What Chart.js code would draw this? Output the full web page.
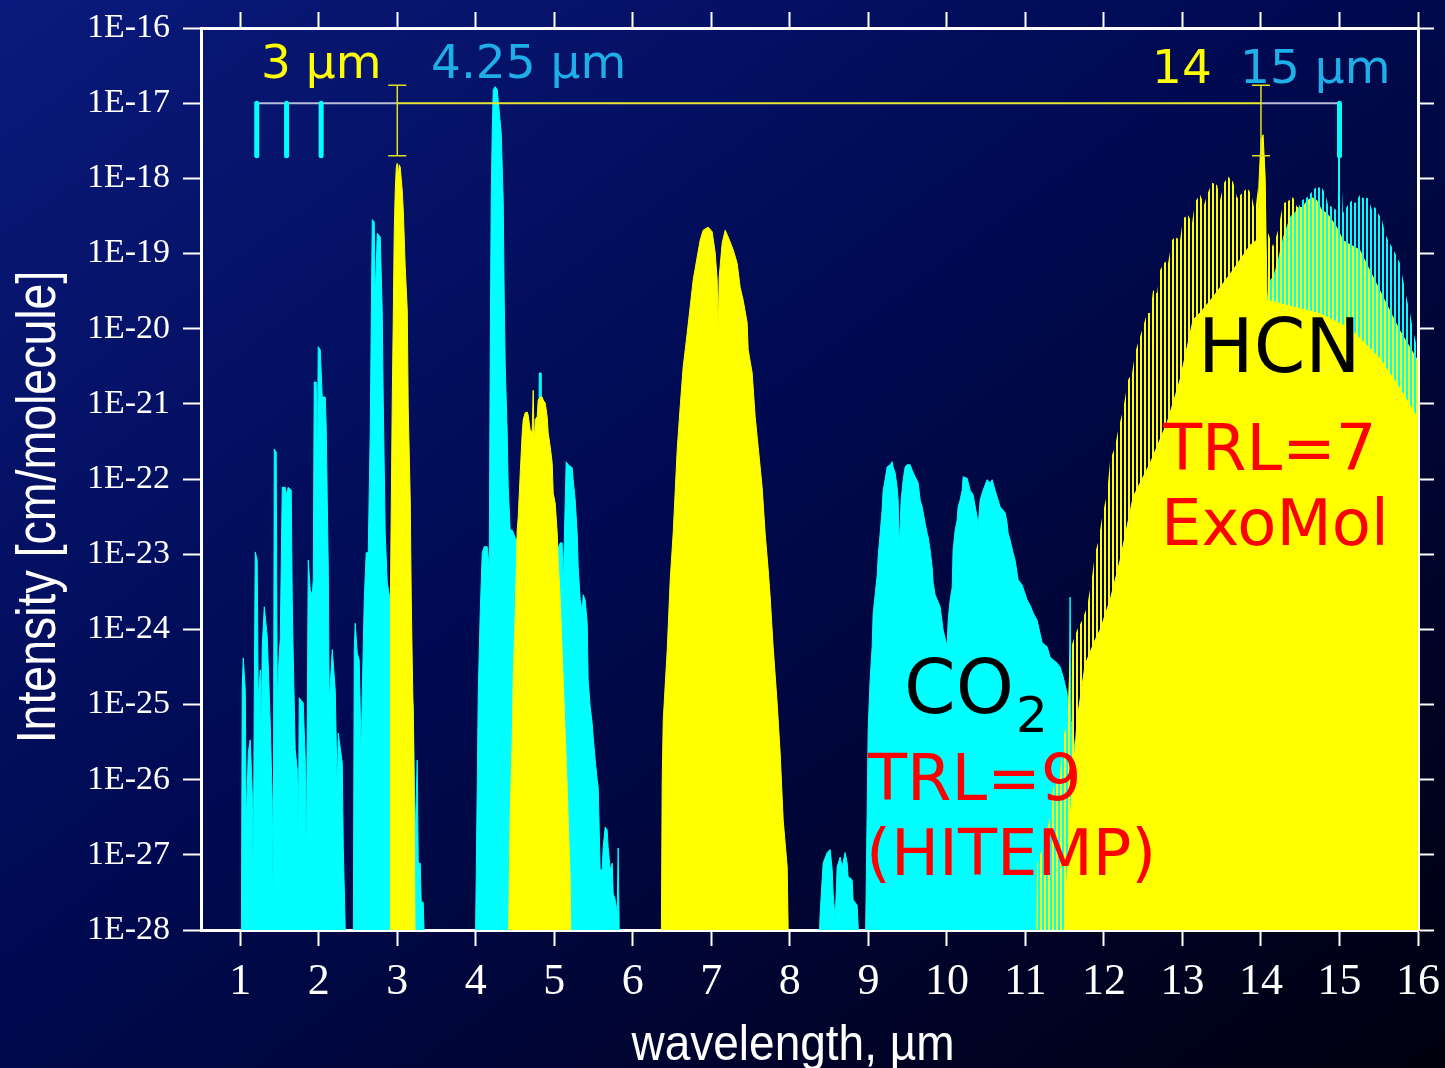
<!DOCTYPE html>
<html>
<head>
<meta charset="utf-8">
<script src="https://cdn.jsdelivr.net/npm/chart.js@4.4.1/dist/chart.umd.min.js"></script>
<style>
html, body { margin: 0; padding: 0; overflow: hidden; width: 1445px; height: 1068px; }
body { background: linear-gradient(to bottom right, #0a1a7c 0%, #000a52 45%, #000326 80%, #00000e 100%); }
canvas { display: block; }
</style>
</head>
<body>
<canvas id="myChart" width="1445" height="1068"></canvas>
<script>
// wavelength (um), log10 intensity (cm/molecule); -28.5 = below axis (band edge)
var co2Spectrum = [
  [1.013,-28.5],[1.025,-24.77],[1.038,-24.38],[1.064,-24.81],[1.076,-26.60],[1.102,-25.64],[1.127,-25.47],[1.153,-26.18],[1.166,-27.43],[1.178,-24.94],
  [1.191,-22.97],[1.216,-23.08],[1.229,-24.94],[1.255,-24.54],[1.267,-25.38],[1.280,-24.23],[1.306,-23.70],[1.344,-24.10],[1.382,-25.25],[1.407,-26.27],
  [1.420,-27.69],[1.433,-21.60],[1.458,-21.64],[1.471,-24.94],[1.497,-24.31],[1.509,-24.14],[1.535,-22.11],[1.573,-22.11],[1.586,-22.21],[1.611,-22.11],
  [1.649,-22.15],[1.662,-23.61],[1.675,-24.37],[1.700,-25.60],[1.726,-25.87],[1.739,-26.97],[1.751,-24.91],[1.802,-24.98],[1.828,-25.74],[1.841,-27.29],
  [1.866,-23.08],[1.892,-23.48],[1.917,-23.54],[1.930,-23.34],[1.942,-20.71],[1.968,-20.71],[1.981,-21.88],[1.993,-20.24],[2.019,-20.28],[2.044,-20.91],
  [2.083,-20.91],[2.095,-21.31],[2.108,-22.28],[2.121,-23.17],[2.133,-24.98],[2.172,-24.27],[2.210,-24.81],[2.235,-26.18],[2.248,-25.38],[2.299,-25.78],
  [2.312,-26.90],[2.337,-27.97],[2.350,-28.5],
  [2.439,-28.5],[2.452,-24.27],[2.464,-23.92],[2.490,-24.31],[2.515,-24.41],[2.541,-25.70],[2.554,-24.85],[2.579,-23.61],[2.604,-22.98],[2.630,-22.98],
  [2.655,-21.39],[2.681,-18.55],[2.706,-18.58],[2.719,-19.58],[2.745,-18.73],[2.783,-18.78],[2.808,-19.75],[2.821,-20.95],[2.846,-22.72],[2.872,-23.38],
  [2.910,-23.61],[3.037,-24.27],[3.165,-24.67],[3.203,-25.03],[3.228,-26.76],[3.254,-25.74],[3.267,-27.11],[3.292,-27.11],[3.305,-27.63],[3.330,-27.63],
  [3.356,-28.5],
  [3.992,-28.5],[4.018,-26.10],[4.031,-24.85],[4.056,-23.78],[4.082,-22.98],[4.107,-22.90],[4.145,-22.90],[4.171,-23.17],[4.184,-20.24],[4.196,-18.29],
  [4.209,-17.40],[4.222,-16.82],[4.247,-16.78],[4.273,-16.82],[4.285,-16.96],[4.324,-17.40],[4.349,-18.29],[4.362,-19.62],[4.375,-20.51],[4.400,-21.39],
  [4.413,-22.11],[4.438,-22.68],[4.464,-22.68],[4.502,-22.78],[4.527,-22.81],[4.693,-22.94],[4.795,-22.94],[4.808,-20.59],[4.833,-20.59],[4.846,-22.94],
  [5.011,-23.01],[5.075,-22.85],[5.100,-22.85],[5.113,-23.44],[5.151,-21.77],[5.177,-21.81],[5.228,-21.85],[5.240,-22.01],[5.266,-22.28],[5.291,-22.72],
  [5.304,-23.17],[5.330,-23.61],[5.355,-23.74],[5.368,-23.54],[5.393,-23.61],[5.419,-23.92],[5.431,-24.67],[5.457,-25.03],[5.482,-25.25],[5.495,-25.43],
  [5.521,-25.74],[5.546,-26.00],[5.559,-26.10],[5.584,-27.20],[5.610,-27.20],[5.622,-26.90],[5.648,-26.63],[5.673,-26.67],[5.686,-26.90],[5.712,-27.20],
  [5.737,-27.11],[5.750,-27.51],[5.775,-27.60],[5.801,-27.77],[5.813,-26.91],[5.826,-27.97],[5.839,-28.5],
  [8.360,-28.5],[8.386,-27.77],[8.424,-27.11],[8.475,-26.97],[8.513,-26.93],[8.539,-27.20],[8.551,-27.51],[8.577,-27.87],[8.602,-27.16],[8.640,-27.03],
  [8.666,-27.16],[8.704,-26.97],[8.730,-27.11],[8.742,-27.29],[8.793,-27.33],[8.806,-27.60],[8.857,-27.67],[8.895,-28.5],
  [8.959,-28.5],[8.984,-26.44],[8.997,-25.34],[9.022,-24.67],[9.048,-24.23],[9.061,-23.78],[9.086,-23.54],[9.112,-23.28],[9.124,-23.04],[9.150,-22.72],
  [9.175,-22.41],[9.188,-22.15],[9.213,-22.01],[9.239,-21.84],[9.277,-21.81],[9.303,-21.77],[9.315,-21.84],[9.341,-21.92],[9.366,-22.11],[9.379,-22.28],
  [9.392,-22.92],[9.417,-22.28],[9.430,-22.15],[9.443,-22.01],[9.468,-21.84],[9.494,-21.81],[9.532,-21.81],[9.557,-21.88],[9.595,-21.97],[9.634,-22.05],
  [9.659,-22.28],[9.685,-22.37],[9.723,-22.59],[9.748,-22.72],[9.761,-22.77],[9.786,-22.94],[9.812,-23.17],[9.825,-23.38],[9.850,-23.54],[9.914,-23.70],
  [9.952,-24.01],[10.003,-24.23],[10.016,-23.88],[10.041,-23.61],[10.067,-23.44],[10.079,-22.94],[10.105,-22.68],[10.130,-22.55],[10.143,-22.37],[10.168,-22.28],
  [10.194,-22.15],[10.207,-21.97],[10.258,-21.99],[10.296,-22.15],[10.334,-22.21],[10.385,-22.51],[10.398,-22.64],[10.423,-22.28],[10.461,-22.15],[10.512,-22.01],
  [10.551,-22.05],[10.576,-22.01],[10.614,-22.15],[10.652,-22.28],[10.678,-22.37],[10.742,-22.45],[10.767,-22.59],[10.780,-22.72],[10.805,-22.81],[10.843,-22.98],
  [10.869,-23.08],[10.907,-23.34],[10.958,-23.41],[11.022,-23.61],[11.060,-23.68],[11.098,-23.78],[11.149,-23.88],[11.213,-24.18],[11.276,-24.23],[11.315,-24.37],
  [11.404,-24.45],[11.442,-24.50],[11.480,-24.63],[11.531,-24.85],[11.544,-25.07],[11.557,-25.21],[11.569,-23.57],[11.582,-25.21],[11.633,-25.60],[11.697,-26.27],
  [11.760,-28.5],
  [13.225,-28.5],[13.734,-25.50],[14.014,-21.00],[14.333,-19.60],[14.715,-19.30],[15.109,-19.30],[15.300,-19.50],[15.517,-19.90],[15.771,-20.40],[16.000,-21.00]
];

// tips of the CO2 15 um band lines
var co2LineTips = [
  [13.225,-28.5],[13.734,-24.94],[13.925,-21.61],[14.014,-20.02],[14.078,-19.58],[14.116,-19.35],[14.154,-19.31],[14.205,-19.13],[14.282,-18.78],[14.371,-18.51],
  [14.460,-18.42],[14.524,-18.29],[14.588,-18.25],[14.651,-18.18],[14.689,-18.13],[14.727,-18.12],[14.778,-18.13],[14.816,-18.20],[14.854,-18.35],[14.905,-18.38],
  [14.956,-18.42],[14.969,-17.76],[14.982,-17.72],[15.007,-17.72],[15.020,-17.89],[15.045,-18.46],[15.109,-18.35],[15.160,-18.29],[15.198,-18.33],[15.262,-18.22],
  [15.300,-18.26],[15.364,-18.26],[15.415,-18.42],[15.453,-18.38],[15.491,-18.46],[15.542,-18.55],[15.580,-18.73],[15.618,-18.82],[15.707,-18.99],[15.771,-19.13],
  [15.810,-19.35],[15.860,-19.62],[15.899,-19.79],[15.937,-20.02],[15.975,-20.19],[16.000,-20.19]
];

var hcnSpectrum = [
  [2.910,-28.5],[2.912,-23.61],[2.936,-20.95],[2.948,-19.92],[2.961,-18.73],[2.974,-18.16],[2.987,-17.86],[2.999,-17.80],[3.012,-17.96],[3.025,-17.82],
  [3.037,-17.85],[3.063,-18.16],[3.076,-18.42],[3.101,-19.18],[3.127,-19.75],[3.139,-21.04],[3.165,-22.28],[3.178,-23.61],[3.190,-24.41],[3.203,-25.17],
  [3.216,-26.44],[3.228,-28.5],
  [4.413,-28.5],[4.438,-26.44],[4.464,-25.47],[4.476,-24.67],[4.502,-23.78],[4.527,-22.68],[4.540,-22.51],[4.566,-21.92],[4.591,-21.39],[4.604,-21.21],
  [4.629,-21.12],[4.655,-21.11],[4.667,-21.15],[4.693,-21.35],[4.718,-21.37],[4.731,-20.82],[4.744,-21.57],[4.757,-21.21],[4.782,-21.17],[4.795,-20.95],
  [4.820,-20.91],[4.846,-20.91],[4.858,-20.95],[4.884,-20.99],[4.909,-21.17],[4.922,-21.39],[4.948,-21.57],[4.973,-21.79],[4.986,-22.19],[5.011,-22.32],
  [5.037,-22.72],[5.049,-23.08],[5.075,-23.61],[5.113,-24.67],[5.164,-26.10],[5.202,-27.33],[5.215,-28.5],
  [6.361,-28.5],[6.374,-26.00],[6.387,-25.21],[6.438,-24.27],[6.476,-23.34],[6.514,-22.72],[6.565,-21.61],[6.603,-21.04],[6.641,-20.51],[6.692,-20.06],
  [6.730,-19.71],[6.769,-19.35],[6.819,-19.05],[6.858,-18.82],[6.896,-18.69],[6.960,-18.65],[7.010,-18.71],[7.049,-18.99],[7.074,-19.35],[7.087,-20.02],
  [7.100,-19.31],[7.138,-18.86],[7.176,-18.69],[7.214,-18.78],[7.278,-18.95],[7.329,-19.13],[7.367,-19.45],[7.405,-19.62],[7.456,-19.92],[7.469,-20.28],
  [7.520,-20.59],[7.558,-21.17],[7.596,-21.57],[7.647,-22.11],[7.685,-22.72],[7.724,-23.21],[7.749,-23.57],[7.787,-24.23],[7.838,-24.98],[7.876,-25.64],
  [7.915,-26.54],[7.966,-27.16],[7.978,-27.97],[7.991,-28.5],
  [11.467,-28.5],[11.569,-26.54],[11.658,-25.21],[11.760,-24.47],[11.888,-24.14],[11.951,-24.01],[12.079,-23.61],[12.206,-23.08],[12.372,-22.24],[12.588,-21.79],
  [12.805,-21.25],[12.970,-20.68],[13.136,-19.88],[13.225,-19.79],[13.390,-19.58],[13.645,-19.22],[13.861,-18.89],[13.950,-18.82],[13.976,-18.02],[14.001,-17.49],
  [14.027,-17.42],[14.052,-17.96],[14.078,-19.62],[14.371,-19.70],[14.753,-19.80],[15.135,-20.00],[15.517,-20.40],[15.771,-20.80],[16.000,-21.20]
];

// tips of the dense HCN rotational lines (11-16 um)
var hcnLineTips = [
  [11.136,-28.5],[11.149,-27.11],[11.225,-26.90],[11.315,-26.50],[11.353,-26.10],[11.442,-25.91],[11.480,-25.43],[11.531,-25.25],[11.569,-24.27],[11.658,-24.01],
  [11.722,-23.88],[11.786,-23.70],[11.849,-23.30],[11.888,-22.98],[11.926,-22.84],[11.977,-22.51],[12.040,-22.19],[12.079,-21.75],[12.142,-21.57],[12.180,-21.35],
  [12.244,-21.08],[12.308,-20.68],[12.359,-20.59],[12.397,-20.32],[12.435,-20.19],[12.486,-20.02],[12.550,-19.79],[12.588,-19.79],[12.626,-19.49],[12.677,-19.53],
  [12.715,-19.22],[12.779,-19.11],[12.817,-19.13],[12.868,-18.82],[12.906,-18.78],[12.970,-18.82],[13.008,-18.53],[13.072,-18.49],[13.123,-18.59],[13.161,-18.31],
  [13.225,-18.22],[13.276,-18.35],[13.314,-18.22],[13.377,-18.06],[13.441,-18.09],[13.479,-18.29],[13.530,-18.06],[13.581,-17.98],[13.645,-18.05],[13.696,-18.26],
  [13.760,-18.20],[13.823,-18.13],[13.874,-18.20],[13.925,-18.45],[13.963,-18.12],[13.989,-17.66],[14.027,-17.42],[14.052,-17.93],[14.078,-18.69],[14.154,-18.91],
  [14.218,-18.69],[14.282,-18.33],[14.333,-18.31],[14.409,-18.25],[14.460,-18.38],[14.524,-18.38],[14.588,-18.29],[14.651,-18.25],[14.715,-18.29],[14.778,-18.42],
  [14.842,-18.46],[14.906,-18.55],[14.969,-18.65],[15.007,-18.73],[15.046,-18.82],[15.109,-18.86],[15.262,-18.95],[15.517,-19.49],[15.771,-20.02],[16.000,-20.42]
];

// markers at 1E-17
var co2MarkerWavelength = [1.21, 1.59, 2.03, 15.0];
var markerTopLog = -17.0;
var markerBottomLog = -17.70;
var refLineGray = [[1.21, 3.0], [14.0, 15.0]];
var refLineYellow = [[3.0, 14.0]];
var refLineLog = -17.0;
var errorBarWavelength = [3.0, 14.0];
var errorBarTopLog = -16.76;
var errorBarBottomLog = -17.70;
var errorBarCap = 0.115;

var xTickValues = [1,2,3,4,5,6,7,8,9,10,11,12,13,14,15,16];
var yTickExponents = [-28,-27,-26,-25,-24,-23,-22,-21,-20,-19,-18,-17,-16];

function toPoints(list) {
  return list.map(function(p) { return {x: p[0], y: Math.pow(10, p[1])}; });
}
function segments(pairs) {
  var out = [];
  pairs.forEach(function(s) {
    out.push({x: s[0][0], y: Math.pow(10, s[0][1])});
    out.push({x: s[1][0], y: Math.pow(10, s[1][1])});
    out.push({x: s[1][0], y: null});
  });
  return out;
}

var markerSegs = co2MarkerWavelength.map(function(w) { return [[w, markerTopLog], [w, markerBottomLog]]; });
var grayRef = refLineGray.map(function(r) { return [[r[0], refLineLog], [r[1], refLineLog]]; });
var yellowRef = refLineYellow.map(function(r) { return [[r[0], refLineLog], [r[1], refLineLog]]; });
var errSegs = [];
errorBarWavelength.forEach(function(w) {
  errSegs.push([[w, errorBarTopLog], [w, errorBarBottomLog]]);
  errSegs.push([[w - errorBarCap, errorBarTopLog], [w + errorBarCap, errorBarTopLog]]);
  errSegs.push([[w - errorBarCap, errorBarBottomLog], [w + errorBarCap, errorBarBottomLog]]);
});

var canvas = document.getElementById('myChart');
var ctx = canvas.getContext('2d');

function stripes(color, offset) {
  var c = document.createElement('canvas');
  c.width = 4; c.height = 1;
  var s = c.getContext('2d');
  s.fillStyle = color;
  s.fillRect(offset, 0, 2, 1);
  return ctx.createPattern(c, 'repeat');
}

var serif = '"Liberation Serif", "Times New Roman", serif';
var sans = '"DejaVu Sans", Verdana, sans-serif';
var arial = '"Liberation Sans", Arial, sans-serif';

var bandLabels = [
  {text: '3 \u00b5m', x: 261, y: 78, size: 47, color: '#ffff00'},
  {text: '4.25 \u00b5m', x: 431, y: 78, size: 47, color: '#1eaee8'},
  {text: '14', x: 1152, y: 83, size: 47, color: '#ffff00'},
  {text: '15 \u00b5m', x: 1240, y: 83, size: 47, color: '#1eaee8'},
  {text: 'HCN', x: 1198, y: 372, size: 74, color: '#000000'},
  {text: 'TRL=7', x: 1163, y: 470, size: 64, color: '#ff0000'},
  {text: 'ExoMol', x: 1161, y: 545, size: 64, color: '#ff0000'},
  {text: 'TRL=9', x: 868, y: 800, size: 64, color: '#ff0000'},
  {text: '(HITEMP)', x: 866, y: 875, size: 64, color: '#ff0000'}
];

var labelPlugin = {
  id: 'bandLabels',
  afterDatasetsDraw: function(chart) {
    var c = chart.ctx;
    c.save();
    c.textAlign = 'left';
    c.textBaseline = 'alphabetic';
    bandLabels.forEach(function(l) {
      c.font = l.size + 'px ' + sans;
      c.fillStyle = l.color;
      c.fillText(l.text, l.x, l.y);
    });
    c.font = '74px ' + sans;
    c.fillStyle = '#000000';
    c.fillText('CO', 904, 713);
    var w = c.measureText('CO').width;
    c.font = '50px ' + sans;
    c.fillText('2', 904 + w + 2, 732);
    c.restore();
  },
  afterDraw: function(chart) {
    // axis titles in a narrow face
    var c = chart.ctx;
    c.save();
    c.fillStyle = '#ffffff';
    c.textAlign = 'center';
    c.textBaseline = 'alphabetic';
    c.font = '56px ' + arial;
    c.translate(55, 507);
    c.rotate(-Math.PI / 2);
    c.scale(0.83, 1);
    c.fillText('Intensity [cm/molecule]', 0, 0);
    c.restore();
    c.save();
    c.fillStyle = '#ffffff';
    c.textAlign = 'center';
    c.textBaseline = 'alphabetic';
    c.font = '50px ' + arial;
    c.translate(793, 1060);
    c.scale(0.92, 1);
    c.fillText('wavelength, \u00b5m', 0, 0);
    c.restore();
  }
};

function fixedTicks(values) {
  return function(scale) { scale.ticks = values.map(function(v) { return {value: v}; }); };
}
var yTicks = yTickExponents.map(function(e) { return Math.pow(10, e); });
var tickGrid = {display: true, drawOnChartArea: false, drawTicks: true, tickLength: 16, tickWidth: 2, tickColor: '#ffffff'};
var frame = {display: true, color: '#ffffff', width: 3};

var myChart = new Chart(ctx, {
  type: 'line',
  data: {
    datasets: [
      {
        label: 'CO2',
        data: toPoints(co2Spectrum),
        borderColor: '#00ffff', backgroundColor: '#00ffff',
        borderWidth: 1, fill: 'start', order: 8
      },
      {
        label: 'CO2 lines',
        data: toPoints(co2LineTips),
        borderColor: 'rgba(0,0,0,0)', backgroundColor: stripes('#00ffff', 2),
        borderWidth: 0, fill: 'start', order: 7
      },
      {
        label: 'HCN lines',
        data: toPoints(hcnLineTips),
        borderColor: 'rgba(0,0,0,0)', backgroundColor: stripes('#ffff00', 0),
        borderWidth: 0, fill: 'start', order: 6
      },
      {
        label: 'HCN',
        data: toPoints(hcnSpectrum),
        borderColor: '#ffff00', backgroundColor: '#ffff00',
        borderWidth: 1, fill: 'start', order: 5
      },
      {
        label: 'ref gray',
        data: segments(grayRef),
        borderColor: '#b8bcd8', borderWidth: 2, fill: false, order: 3
      },
      {
        label: 'ref yellow',
        data: segments(yellowRef),
        borderColor: '#e8e830', borderWidth: 2, fill: false, order: 2
      },
      {
        label: 'markers',
        data: segments(markerSegs),
        borderColor: '#00ffff', borderWidth: 5, fill: false, order: 1
      },
      {
        label: 'error bars',
        data: segments(errSegs),
        borderColor: '#e0e020', borderWidth: 1.5, fill: false, order: 0
      }
    ]
  },
  options: {
    responsive: false,
    devicePixelRatio: 1,
    animation: false,
    events: [],
    layout: {padding: 0},
    elements: {
      point: {radius: 0},
      line: {tension: 0, borderJoinStyle: 'round', borderCapStyle: 'butt', spanGaps: false}
    },
    plugins: {legend: {display: false}, tooltip: {enabled: false}},
    scales: {
      x: {
        type: 'linear', axis: 'x', position: 'bottom', min: 0.5, max: 16, z: 1,
        afterBuildTicks: fixedTicks(xTickValues),
        afterFit: function(s) { s.height = 138; s.paddingLeft = 0; s.paddingRight = 0; },
        border: frame, grid: tickGrid,
        ticks: {color: '#ffffff', font: {family: serif, size: 44}, padding: 10, maxRotation: 0, autoSkip: false}
      },
      x2: {
        type: 'linear', axis: 'x', position: 'top', min: 0.5, max: 16, z: 1,
        afterBuildTicks: fixedTicks(xTickValues),
        afterFit: function(s) { s.height = 28; s.paddingLeft = 0; s.paddingRight = 0; },
        border: frame, grid: tickGrid,
        ticks: {display: false}
      },
      y: {
        type: 'logarithmic', axis: 'y', position: 'left', min: 1e-28, max: 1e-16, z: 1,
        afterBuildTicks: fixedTicks(yTicks),
        afterFit: function(s) { s.width = 201; s.paddingTop = 0; s.paddingBottom = 0; },
        border: frame,
        grid: {display: true, drawOnChartArea: false, drawTicks: true, tickLength: 18, tickWidth: 2, tickColor: '#ffffff'},
        ticks: {
          color: '#ffffff', font: {family: serif, size: 34}, padding: 13, autoSkip: false,
          callback: function(v) { return '1E' + Math.round(Math.log10(v)); }
        }
      },
      y2: {
        type: 'logarithmic', axis: 'y', position: 'right', min: 1e-28, max: 1e-16, z: 1,
        afterBuildTicks: fixedTicks(yTicks),
        afterFit: function(s) { s.width = 27; s.paddingTop = 0; s.paddingBottom = 0; },
        border: frame, grid: tickGrid,
        ticks: {display: false}
      }
    }
  },
  plugins: [labelPlugin]
});
</script>
</body>
</html>
